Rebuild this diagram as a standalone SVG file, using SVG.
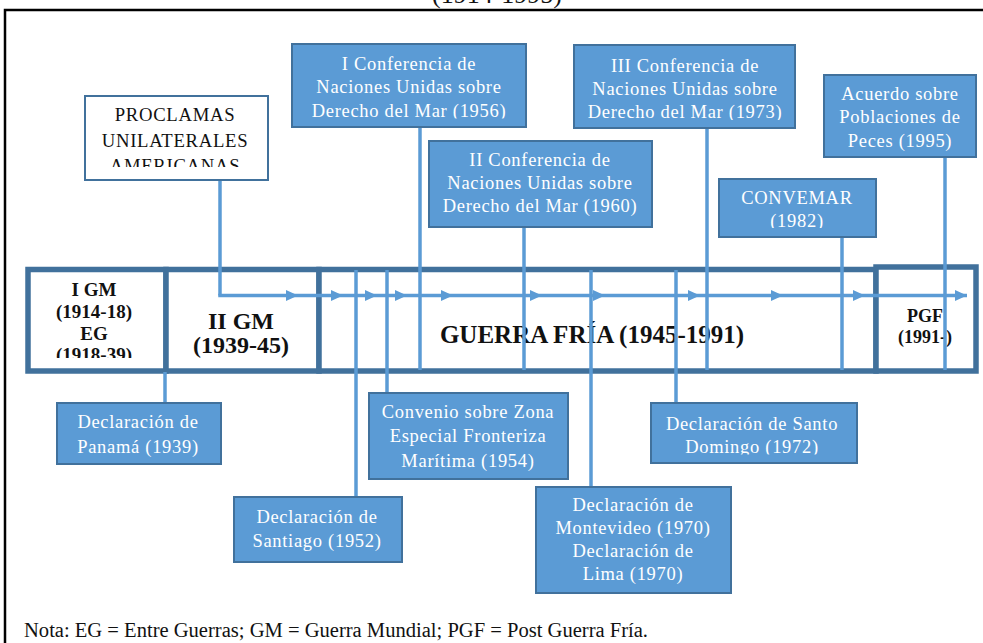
<svg xmlns="http://www.w3.org/2000/svg" width="983" height="643" viewBox="0 0 983 643">
<style>
.frame{fill:none;stroke:#000;stroke-width:2.5}
.band{fill:#fff;stroke:#41719C;stroke-width:5.5}
.box{fill:#5B9BD5;stroke:#41719C;stroke-width:2}
.wbox{fill:#fff;stroke:#41719C;stroke-width:2}
.bt{font-family:"Liberation Serif","Times New Roman",serif;font-size:18.5px;fill:#fff;text-anchor:middle;letter-spacing:0.7px}
.kt{font-family:"Liberation Serif","Times New Roman",serif;font-size:18.7px;fill:#111;text-anchor:middle;letter-spacing:0.7px}
.bb{font-family:"Liberation Serif","Times New Roman",serif;font-weight:bold;fill:#111;text-anchor:middle}
.con{fill:none;stroke:#5B9BD5;stroke-width:3.5}
.note{font-family:"Liberation Serif","Times New Roman",serif;font-size:20px;fill:#111}
</style>
<defs>
<marker id="ah" markerUnits="userSpaceOnUse" markerWidth="13" markerHeight="12" refX="12" refY="6" orient="auto">
<path d="M0,0.5 L12,6 L0,11.5 z" fill="#5B9BD5"/>
</marker>
<clipPath id="c1"><rect x="30" y="272" width="134" height="86"/></clipPath>
<clipPath id="cpro"><rect x="86" y="97" width="181" height="70"/></clipPath>
<clipPath id="cic"><rect x="293" y="45" width="232" height="73.5"/></clipPath>
<clipPath id="ciii"><rect x="575" y="46" width="219" height="74"/></clipPath>
<clipPath id="ccv"><rect x="720" y="180" width="155" height="48"/></clipPath>
<clipPath id="csd"><rect x="652" y="404" width="204" height="50.5"/></clipPath>
</defs>
<rect class="frame" x="5" y="10" width="990" height="700"/>
<text class="bb" x="497" y="3" style="font-weight:normal;font-size:26px">(1914-1995)</text>

<g id="gm1">
<rect class="band" x="28" y="269.5" width="138" height="101.5"/>
<g clip-path="url(#c1)">
<text class="bb" x="94" y="296" font-size="19">I GM</text>
<text class="bb" x="94" y="318" font-size="19">(1914-18)</text>
<text class="bb" x="94" y="339.5" font-size="19">EG</text>
<text class="bb" x="94" y="361" font-size="19">(1918-39)</text>
</g>
</g>
<g id="gm2">
<rect class="band" x="166" y="269.5" width="153" height="101.5"/>
<text class="bb" x="241" y="329" font-size="24">II GM</text>
<text class="bb" x="241" y="353" font-size="24">(1939-45)</text>
</g>
<g id="gf">
<rect class="band" x="319" y="269.5" width="557" height="101.5"/>
<text class="bb" x="592" y="343" font-size="25">GUERRA FRÍA (1945-1991)</text>
</g>
<g id="pgf">
<rect class="band" x="876" y="267" width="100" height="104"/>
<text class="bb" x="925" y="322" font-size="18">PGF</text>
<text class="bb" x="925" y="343" font-size="18">(1991-)</text>
</g>

<g id="connectors">
<path class="con" d="M220,180 V295.5"/>
<polyline class="con" marker-mid="url(#ah)" marker-end="url(#ah)" points="218.25,295.5 298,295.5 343,295.5 377,295.5 407,295.5 453,295.5 542,295.5 605,295.5 700,295.5 783,295.5 865,295.5 967,295.5"/>
<path class="con" d="M165,372 V403"/>
<path class="con" d="M356,270 V497"/>
<path class="con" d="M387,270 V393"/>
<path class="con" d="M420,127 V370"/>
<path class="con" d="M524,227 V370"/>
<path class="con" d="M591,270 V487"/>
<path class="con" d="M676,270 V403"/>
<path class="con" d="M707,128 V370"/>
<path class="con" d="M842,237 V370"/>
<path class="con" d="M945,157 V370"/>
</g>

<g id="proclamas">
<rect class="wbox" x="85" y="96" width="183" height="84"/>
<g clip-path="url(#cpro)">
<text class="kt" x="175" y="121">PROCLAMAS</text>
<text class="kt" x="175" y="146.5">UNILATERALES</text>
<text class="kt" x="175" y="172">AMERICANAS</text>
</g>
</g>
<g id="conf1">
<rect class="box" x="292" y="44" width="234" height="83"/>
<g clip-path="url(#cic)">
<text class="bt" x="409" y="70">I Conferencia de</text>
<text class="bt" x="409" y="93.3">Naciones Unidas sobre</text>
<text class="bt" x="409" y="116.5">Derecho del Mar (1956)</text>
</g>
</g>
<g id="conf2">
<rect class="box" x="429" y="141" width="223" height="86"/>
<text class="bt" x="540" y="165.7">II Conferencia de</text>
<text class="bt" x="540" y="188.5">Naciones Unidas sobre</text>
<text class="bt" x="540" y="211.7">Derecho del Mar (1960)</text>
</g>
<g id="conf3">
<rect class="box" x="574" y="45" width="221" height="83"/>
<g clip-path="url(#ciii)">
<text class="bt" x="685" y="71.5">III Conferencia de</text>
<text class="bt" x="685" y="94.8">Naciones Unidas sobre</text>
<text class="bt" x="685" y="118">Derecho del Mar (1973)</text>
</g>
</g>
<g id="acuerdo">
<rect class="box" x="824" y="75" width="152" height="82"/>
<text class="bt" x="900" y="100">Acuerdo sobre</text>
<text class="bt" x="900" y="123">Poblaciones de</text>
<text class="bt" x="900" y="146.7">Peces (1995)</text>
</g>
<g id="convemar">
<rect class="box" x="719" y="179" width="157" height="58"/>
<g clip-path="url(#ccv)">
<text class="bt" x="797" y="204">CONVEMAR</text>
<text class="bt" x="797" y="227">(1982)</text>
</g>
</g>
<g id="panama">
<rect class="box" x="57" y="403" width="164" height="61"/>
<text class="bt" x="138" y="428">Declaración de</text>
<text class="bt" x="138" y="453">Panamá (1939)</text>
</g>
<g id="santiago">
<rect class="box" x="234" y="497" width="168" height="65"/>
<text class="bt" x="317" y="523">Declaración de</text>
<text class="bt" x="317" y="547">Santiago (1952)</text>
</g>
<g id="convenio">
<rect class="box" x="369" y="393" width="199" height="86"/>
<text class="bt" x="468" y="418">Convenio sobre Zona</text>
<text class="bt" x="468" y="442">Especial Fronteriza</text>
<text class="bt" x="468" y="467">Marítima (1954)</text>
</g>
<g id="montevideo">
<rect class="box" x="536" y="487" width="195" height="106"/>
<text class="bt" x="633" y="510.5">Declaración de</text>
<text class="bt" x="633" y="533.5">Montevideo (1970)</text>
<text class="bt" x="633" y="556.5">Declaración de</text>
<text class="bt" x="633" y="579.5">Lima (1970)</text>
</g>
<g id="santodomingo">
<rect class="box" x="651" y="403" width="206" height="60"/>
<g clip-path="url(#csd)">
<text class="bt" x="752" y="430">Declaración de Santo</text>
<text class="bt" x="752" y="453.3">Domingo (1972)</text>
</g>
</g>
<text class="note" x="24" y="637" textLength="624" lengthAdjust="spacingAndGlyphs">Nota: EG = Entre Guerras; GM = Guerra Mundial; PGF = Post Guerra Fría.</text>
</svg>
